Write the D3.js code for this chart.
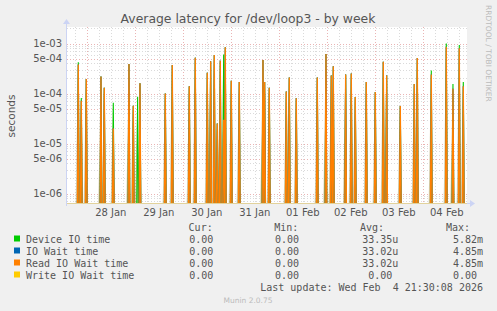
<!DOCTYPE html>
<html>
<head>
<meta charset="utf-8">
<script src="https://cdn.jsdelivr.net/npm/d3@7"></script>
<style>
  body { margin: 0; background: #f0f0f0; }
  svg { display: block; font-family: "DejaVu Sans", sans-serif; }
  .mono { font-family: "DejaVu Sans Mono", monospace; }
</style>
</head>
<body>
<div id="chart"></div>
<script>
// spike samples (everything else is 0)
const spikeTimes = [
  "2026-01-27T19:45", "2026-01-27T21:15", "2026-01-27T23:45", "2026-01-28T07:05",
  "2026-01-28T08:45", "2026-01-28T13:15", "2026-01-28T21:05", "2026-01-28T23:15",
  "2026-01-29T01:25", "2026-01-29T02:35", "2026-01-29T15:15", "2026-01-29T18:45",
  "2026-01-30T03:15", "2026-01-30T06:15", "2026-01-30T12:15", "2026-01-30T13:55",
  "2026-01-30T15:45", "2026-01-30T17:15", "2026-01-30T18:45", "2026-01-30T20:25",
  "2026-01-30T21:15", "2026-01-31T00:15", "2026-01-31T04:15", "2026-01-31T16:05",
  "2026-01-31T16:55", "2026-01-31T19:15", "2026-02-01T03:45", "2026-02-01T05:15",
  "2026-02-01T08:45", "2026-02-01T19:15", "2026-02-01T23:35", "2026-02-02T02:15",
  "2026-02-02T03:15", "2026-02-02T09:25", "2026-02-02T12:15", "2026-02-02T14:15",
  "2026-02-02T19:45", "2026-02-03T00:15", "2026-02-03T04:15", "2026-02-03T05:55",
  "2026-02-03T12:45", "2026-02-03T19:45", "2026-02-03T21:15", "2026-02-04T04:15",
  "2026-02-04T11:45", "2026-02-04T15:05", "2026-02-04T18:15", "2026-02-04T20:15"
];
const deviceIO = [
  4.2e-4, 8.1e-5, 1.95e-4, 2.2e-4, 1.3e-4, 6.5e-5, 3.9e-4, 5.7e-5,
  8.6e-5, 1.6e-4, 1.0e-4, 3.7e-4, 1.4e-4, 5.2e-4, 2.6e-4, 4.4e-4,
  5.9e-4, 2.5e-5, 4.5e-4, 6.0e-4, 8.4e-4, 1.8e-4, 1.7e-4, 4.7e-4,
  1.7e-4, 1.3e-4, 1.1e-4, 2.1e-4, 8.0e-5, 2.1e-4, 6.2e-4, 2.3e-4,
  3.5e-4, 2.4e-4, 2.5e-4, 8.5e-5, 1.7e-4, 1.07e-4, 4.3e-4, 2.3e-4,
  5.6e-5, 1.55e-4, 5.1e-4, 2.9e-4, 1.0e-3, 1.55e-4, 9.3e-4, 1.7e-4
];
const readIO = [
  3.8e-4, 7.2e-5, 1.95e-4, 2.2e-4, 1.3e-4, 2.0e-5, 3.9e-4, 5.7e-5,
  0, 1.6e-4, 1.0e-4, 3.7e-4, 1.4e-4, 5.2e-4, 2.6e-4, 4.4e-4,
  5.9e-4, 2.5e-5, 4.5e-4, 3.0e-5, 8.4e-4, 1.8e-4, 1.7e-4, 4.7e-4,
  1.7e-4, 1.3e-4, 1.1e-4, 2.1e-4, 8.0e-5, 2.1e-4, 6.2e-4, 2.3e-4,
  3.5e-4, 2.4e-4, 2.5e-4, 8.5e-5, 1.7e-4, 1.07e-4, 4.3e-4, 2.3e-4,
  5.6e-5, 1.55e-4, 5.1e-4, 2.4e-4, 8.5e-4, 1.25e-4, 8.0e-4, 1.4e-4
];
const ioWait = readIO;   // identical to read wait, hidden under it
const writeIO = spikeTimes.map(() => 0);

const yTicks = [1e-3, 5e-4, 1e-4, 5e-5, 1e-5, 5e-6, 1e-6];
const dayLabels = ["28 Jan", "29 Jan", "30 Jan", "31 Jan", "01 Feb", "02 Feb", "03 Feb", "04 Feb"];

const legendNames = ["Device IO time", "IO Wait time", "Read IO Wait time", "Write IO Wait time"];
const legendColors = ["#00cc00", "#0066b3", "#ff8000", "#ffcc00"];
const legendCur = ["0.00", "0.00", "0.00", "0.00"];
const legendMin = ["0.00", "0.00", "0.00", "0.00"];
const legendAvg = ["33.35u", "33.02u", "33.02u", "0.00"];
const legendMax = ["5.82m", "4.85m", "4.85m", "0.00"];

const W = 497, H = 311;
const plot = {left: 67, right: 467, top: 27, bottom: 203};

const svg = d3.select("#chart").append("svg")
    .attr("width", W).attr("height", H);

svg.append("rect").attr("width", W).attr("height", H).attr("fill", "#f0f0f0");
svg.append("rect")
    .attr("x", plot.left).attr("y", plot.top)
    .attr("width", plot.right - plot.left).attr("height", plot.bottom - plot.top)
    .attr("fill", "#fff");

const parse = d3.utcParse("%Y-%m-%dT%H:%M");
const x = d3.scaleUtc()
    .domain([Date.UTC(2026, 0, 27, 14, 6), Date.UTC(2026, 1, 4, 22, 6)])
    .range([plot.left, plot.right]);
const y = d3.scaleLog()
    .domain([6.46e-7, 2.138e-3])
    .range([plot.bottom, plot.top])
    .clamp(true);

// horizontal grid
const hGrid = [];
for (let e = -7; e <= -3; e++) {
  for (let m = 1; m <= 9; m++) {
    const v = m * Math.pow(10, e);
    if (v >= y.domain()[0] && v <= y.domain()[1]) hGrid.push({v, major: m === 1 || m === 5});
  }
}
svg.append("g").selectAll("line")
    .data(hGrid)
  .enter().append("line")
    .attr("x1", plot.left).attr("x2", plot.right)
    .attr("y1", d => Math.round(y(d.v)) + 0.5).attr("y2", d => Math.round(y(d.v)) + 0.5)
    .attr("stroke", d => d.major ? "#eab4b4" : "#dadada")
    .attr("stroke-dasharray", "1,2");

// vertical grid: every 6 hours, red at midnight
const vGrid = d3.utcHour.every(6).range(x.domain()[0], x.domain()[1]);
svg.append("g").selectAll("line")
    .data(vGrid)
  .enter().append("line")
    .attr("x1", d => Math.round(x(d)) + 0.5).attr("x2", d => Math.round(x(d)) + 0.5)
    .attr("y1", plot.top).attr("y2", plot.bottom)
    .attr("stroke", d => d.getUTCHours() === 0 ? "#eab4b4" : "#dadada")
    .attr("stroke-dasharray", "1,2");

// series
const floorV = y.domain()[0] / 10;
function spikePath(vals) {
  let p = "";
  spikeTimes.forEach((t, i) => {
    if (!vals[i]) return;
    const cx = x(parse(t));
    p += `M${cx - 0.8},${y(floorV)}L${cx},${y(vals[i])}L${cx + 0.8},${y(floorV)}`;
  });
  return p;
}

// olive body of each spike
svg.append("g").selectAll("path")
    .data(spikeTimes)
  .enter().append("path")
    .attr("d", (t, i) => {
      const cx = x(parse(t));
      const top = y(Math.max(deviceIO[i], readIO[i]));
      return `M${cx - 2.6},${plot.bottom}L${cx - 0.3},${top}L${cx + 1},${plot.bottom}Z`;
    })
    .attr("fill", "#a2924a")
    .attr("fill-opacity", 0.5);

const series = [
  {vals: deviceIO, color: legendColors[0], w: 1.1},
  {vals: ioWait, color: legendColors[1], w: 1.1},
  {vals: readIO, color: legendColors[2], w: 1.3},
  {vals: writeIO, color: legendColors[3], w: 1}
];
svg.append("g").selectAll("path")
    .data(series)
  .enter().append("path")
    .attr("d", d => spikePath(d.vals))
    .attr("fill", "none")
    .attr("stroke", d => d.color)
    .attr("stroke-width", d => d.w);

// axes
svg.append("line")
    .attr("x1", plot.left).attr("x2", plot.right)
    .attr("y1", plot.bottom + 0.5).attr("y2", plot.bottom + 0.5)
    .attr("stroke", "#e2d29c");
svg.append("line")
    .attr("x1", plot.right).attr("x2", plot.right + 4)
    .attr("y1", plot.bottom + 0.5).attr("y2", plot.bottom + 0.5)
    .attr("stroke", "#ccd4f4");
svg.append("path")
    .attr("d", `M${plot.right + 3},${plot.bottom - 3}L${plot.right + 8},${plot.bottom + 0.5}L${plot.right + 3},${plot.bottom + 4}Z`)
    .attr("fill", "#ccd4f4");
svg.append("line")
    .attr("x1", plot.left - 0.5).attr("x2", plot.left - 0.5)
    .attr("y1", plot.bottom + 3).attr("y2", plot.top - 4)
    .attr("stroke", "#ccd4f4");
svg.append("path")
    .attr("d", `M${plot.left - 4},${plot.top - 3}L${plot.left - 0.5},${plot.top - 8}L${plot.left + 3},${plot.top - 3}Z`)
    .attr("fill", "#ccd4f4");

// y tick labels
const fmtExp = v => {
  const [m, e] = v.toExponential(0).split("e");
  const n = Math.abs(+e);
  return `${m}e${+e < 0 ? "-" : "+"}${n < 10 ? "0" + n : n}`;
};
svg.append("g").selectAll("text")
    .data(yTicks)
  .enter().append("text")
    .attr("x", plot.left - 5)
    .attr("y", d => y(d) + 3.5)
    .attr("text-anchor", "end")
    .attr("font-size", 10)
    .attr("fill", "#555")
    .text(fmtExp);

// x labels at noon
const noons = d3.utcDay.range(x.domain()[0], x.domain()[1]).map(d => d3.utcHour.offset(d, 12))
    .filter(d => d <= x.domain()[1]);
svg.append("g").selectAll("text")
    .data(noons.slice(0, dayLabels.length))
  .enter().append("text")
    .attr("x", d => x(d))
    .attr("y", 216)
    .attr("text-anchor", "middle")
    .attr("font-size", 10)
    .attr("fill", "#555")
    .text((d, i) => dayLabels[i]);

// titles
svg.append("text")
    .attr("x", 248).attr("y", 23)
    .attr("text-anchor", "middle")
    .attr("font-size", 12.4)
    .attr("fill", "#555")
    .text("Average latency for /dev/loop3 - by week");
svg.append("text")
    .attr("transform", "translate(15,116) rotate(-90)")
    .attr("text-anchor", "middle")
    .attr("font-size", 10.5)
    .attr("fill", "#555")
    .text("seconds");
svg.append("text")
    .attr("transform", "translate(486,5) rotate(90)")
    .attr("font-size", 7.5)
    .attr("fill", "#bbb")
    .text("RRDTOOL / TOBI OETIKER");

// legend
const cw = 6.02;
const cols = [
  {head: "Cur:", headX: 212.7, valX: 219.3, vals: legendCur},
  {head: "Min:", headX: 298.3, valX: 305, vals: legendMin},
  {head: "Avg:", headX: 384, valX: 398.3, vals: legendAvg},
  {head: "Max:", headX: 470, valX: 483, vals: legendMax}
];
const lg = svg.append("g").attr("class", "mono").attr("font-size", 10).attr("fill", "#555");
cols.forEach(c => {
  lg.append("text").attr("x", c.headX).attr("y", 231).attr("text-anchor", "end").text(c.head);
});
legendNames.forEach((name, i) => {
  const ry = 243 + i * 12;
  lg.append("rect").attr("x", 14).attr("y", ry - 7.5).attr("width", 6).attr("height", 6)
      .attr("fill", legendColors[i]);
  lg.append("text").attr("x", 26).attr("y", ry).text(name);
  cols.forEach(c => {
    const v = c.vals[i];
    const hasUnit = /[a-z]$/i.test(v);
    lg.append("text").attr("x", c.valX - (hasUnit ? 0 : cw)).attr("y", ry)
        .attr("text-anchor", "end").text(v);
  });
});
lg.append("text").attr("x", 483).attr("y", 291).attr("text-anchor", "end")
    .style("white-space", "pre")
    .text("Last update: Wed Feb  4 21:30:08 2026");

svg.append("text")
    .attr("x", 248).attr("y", 303)
    .attr("text-anchor", "middle")
    .attr("font-size", 7.5)
    .attr("fill", "#bbb")
    .text("Munin 2.0.75");
</script>
</body>
</html>
